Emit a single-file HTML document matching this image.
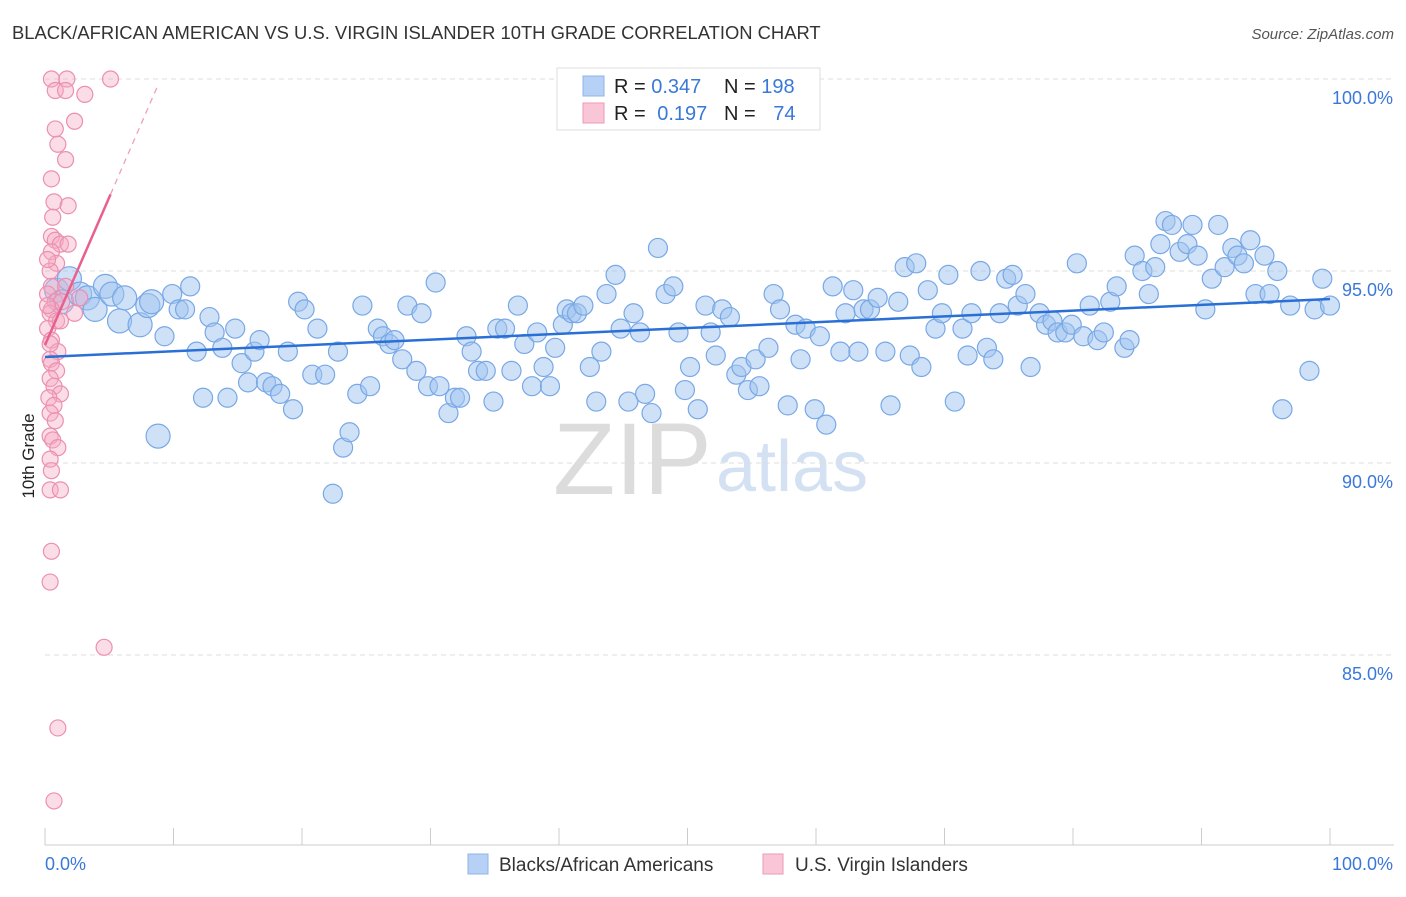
<!DOCTYPE html>
<html><head><meta charset="utf-8">
<style>
body{margin:0;background:#fff;font-family:"Liberation Sans",sans-serif;}
svg text{font-family:"Liberation Sans",sans-serif;}
</style></head>
<body>
<svg id="chart" width="1406" height="892" viewBox="0 0 1406 892">
<text x="12" y="39" font-size="18.4" fill="#333">BLACK/AFRICAN AMERICAN VS U.S. VIRGIN ISLANDER 10TH GRADE CORRELATION CHART</text>
<text x="1394" y="39" font-size="15" fill="#555" text-anchor="end" font-style="italic">Source: ZipAtlas.com</text>
<text x="34" y="456" font-size="17" fill="#222" text-anchor="middle" transform="rotate(-90 34 456)">10th Grade</text>
<g>
<text x="553" y="494" font-size="102" fill="#dcdcdc" font-family="Liberation Serif, serif">ZIP</text>
<text x="716" y="491" font-size="72" fill="#d3e1f3">atlas</text>
</g>
<g id="grid"></g>
<g id="axes"></g>
<g id="pts"></g>
<g id="lines"></g>
<g>
<rect x="557" y="68" width="263" height="62" fill="#fff" stroke="#ddd"/>
<rect x="583" y="76" width="21" height="20" fill="#b7d0f5" stroke="#8db4ea"/>
<text x="614" y="93" font-size="20" fill="#222">R = <tspan fill="#3a78d8">0.347</tspan></text>
<text x="724" y="93" font-size="20" fill="#222">N = <tspan fill="#3a78d8">198</tspan></text>
<rect x="583" y="103" width="21" height="20" fill="#f8c6d6" stroke="#ee9ab6"/>
<text x="614" y="120" font-size="20" fill="#222">R = <tspan dx="6" fill="#3a78d8">0.197</tspan></text>
<text x="724" y="120" font-size="20" fill="#222">N = <tspan dx="12" fill="#3a78d8">74</tspan></text>
</g>
<g>
<rect x="468" y="854" width="20" height="20" fill="#b7d0f5" stroke="#8db4ea"/>
<text x="499" y="871" font-size="19" fill="#333">Blacks/African Americans</text>
<rect x="763" y="854" width="20" height="20" fill="#f8c6d6" stroke="#ee9ab6"/>
<text x="795" y="871" font-size="19" fill="#333">U.S. Virgin Islanders</text>
</g>
</svg>
<script>
const blueX=[0.9,1.3,1.9,2.7,3.3,3.9,4.7,5.2,5.8,6.2,7.4,8.0,8.3,8.8,9.3,9.9,10.4,10.9,11.3,11.8,12.3,12.8,13.2,13.8,14.2,14.8,15.3,15.8,16.3,16.7,17.2,17.7,18.3,18.9,19.3,19.7,20.2,20.8,21.2,21.8,22.4,22.8,23.2,23.7,24.3,24.7,25.3,25.9,26.3,26.8,27.2,27.8,28.2,28.9,29.3,29.8,30.4,30.7,31.4,31.9,32.3,32.8,33.2,33.7,34.3,34.9,35.2,35.8,36.3,36.8,37.3,37.9,38.3,38.8,39.3,39.7,40.3,40.6,41.0,41.4,41.9,42.4,42.9,43.3,43.7,44.4,44.8,45.4,45.8,46.3,46.7,47.2,47.7,48.3,48.9,49.3,49.8,50.2,50.8,51.4,51.8,52.2,52.7,53.3,53.8,54.2,54.7,55.3,55.6,56.3,56.7,57.2,57.8,58.4,58.8,59.2,59.9,60.3,60.8,61.3,61.9,62.3,62.9,63.3,63.7,64.2,64.8,65.4,65.8,66.4,66.9,67.3,67.8,68.2,68.7,69.3,69.8,70.3,70.8,71.4,71.8,72.1,72.8,73.3,73.8,74.3,74.8,75.3,75.7,76.3,76.7,77.4,77.9,78.4,78.8,79.4,79.9,80.3,80.8,81.3,81.9,82.4,82.9,83.4,84.0,84.4,84.8,85.4,85.9,86.4,86.8,87.2,87.7,88.3,88.9,89.3,89.7,90.3,90.8,91.3,91.8,92.4,92.8,93.3,93.8,94.2,94.9,95.3,95.9,96.3,96.9,98.4,98.8,99.4,100.0];
const blueY=[94.5,94.2,94.8,94.4,94.3,94.0,94.6,94.4,93.7,94.3,93.6,94.1,94.2,90.7,93.3,94.4,94.0,94.0,94.6,92.9,91.7,93.8,93.4,93.0,91.7,93.5,92.6,92.1,92.9,93.2,92.1,92.0,91.8,92.9,91.4,94.2,94.0,92.3,93.5,92.3,89.2,92.9,90.4,90.8,91.8,94.1,92.0,93.5,93.3,93.1,93.2,92.7,94.1,92.4,93.9,92.0,94.7,92.0,91.3,91.7,91.7,93.3,92.9,92.4,92.4,91.6,93.5,93.5,92.4,94.1,93.1,92.0,93.4,92.5,92.0,93.0,93.6,94.0,93.9,93.9,94.1,92.5,91.6,92.9,94.4,94.9,93.5,91.6,93.9,93.4,91.8,91.3,95.6,94.4,94.6,93.4,91.9,92.5,91.4,94.1,93.4,92.8,94.0,93.8,92.3,92.5,91.9,92.7,92.0,93.0,94.4,94.0,91.5,93.6,92.7,93.5,91.4,93.3,91.0,94.6,92.9,93.9,94.5,92.9,94.0,94.0,94.3,92.9,91.5,94.2,95.1,92.8,95.2,92.5,94.5,93.5,93.9,94.9,91.6,93.5,92.8,93.9,95.0,93.0,92.7,93.9,94.8,94.9,94.1,94.4,92.5,93.9,93.6,93.7,93.4,93.4,93.6,95.2,93.3,94.1,93.2,93.4,94.2,94.6,93.0,93.2,95.4,95.0,94.4,95.1,95.7,96.3,96.2,95.5,95.7,96.2,95.4,94.0,94.8,96.2,95.1,95.6,95.4,95.2,95.8,94.4,95.4,94.4,95.0,91.4,94.1,92.4,94.0,94.8,94.1];
const pinkX=[0.5,1.7,5.1,0.8,1.6,3.1,2.3,0.8,1.0,1.6,0.5,0.7,1.8,0.6,0.5,0.8,1.2,1.8,0.5,0.9,0.4,0.5,0.2,0.8,1.3,0.5,0.4,0.9,0.2,0.5,1.0,0.4,0.5,0.9,0.4,0.7,1.2,0.3,0.7,0.4,0.8,0.4,0.6,1.0,0.4,0.5,0.4,1.2,0.5,0.4,4.6,1.0,0.7,0.2,1.2,1.6,2.3,2.7,0.4,0.2];
const pinkY=[100.0,100.0,100.0,99.7,99.7,99.6,98.9,98.7,98.3,97.9,97.4,96.8,96.7,96.4,95.9,95.8,95.7,95.7,95.5,95.2,95.0,94.6,94.4,94.2,94.2,94.0,93.9,93.7,93.5,93.2,92.9,92.7,92.6,92.4,92.2,92.0,91.8,91.7,91.5,91.3,91.1,90.7,90.6,90.4,90.1,89.8,89.3,89.3,87.7,86.9,85.2,83.1,81.2,95.3,93.7,94.6,93.9,94.3,93.1,94.1];
const blueTrend=[92.76,94.27];
const pinkTrend=[93.07,0.77];
const yTicks=[100,95,90,85];
const yTickLabels=["100.0%","95.0%","90.0%","85.0%"];
const xTicks=[0,10,20,30,40,50,60,70,80,90,100];

const X0=45,X1=1330,Y100=79,PX_PER=38.4;
const sx=v=>X0+(X1-X0)*v/100;
const sy=v=>Y100+(100-v)*PX_PER;
const NS="http://www.w3.org/2000/svg";
function mk(tag,attrs,parent){const e=document.createElementNS(NS,tag);for(const k in attrs)e.setAttribute(k,attrs[k]);parent.appendChild(e);return e;}
const grid=document.getElementById('grid'),axes=document.getElementById('axes'),pts=document.getElementById('pts'),lines=document.getElementById('lines');
yTicks.forEach((t,i)=>{
  const l=mk('line',{x1:X0,x2:1394,y1:sy(t),y2:sy(t),stroke:'#ddd','stroke-dasharray':'5,4'},grid);
  
  
  const tx=mk('text',{x:1393,y:sy(t)+25,'font-size':18,fill:'#3a78d8','text-anchor':'end'},axes);
  tx.textContent=yTickLabels[i];
  
  
});
const ax=mk('line',{x1:X0,x2:1394,y1:845,y2:845,stroke:'#ccc'},axes);


xTicks.forEach(t=>{
  const l=mk('line',{x1:sx(t),x2:sx(t),y1:828,y2:845,stroke:'#ccc'},axes);
  
  
});
const xl0=mk('text',{x:45,y:870,'font-size':18,fill:'#3a78d8'},axes);xl0.textContent='0.0%';


const xl1=mk('text',{x:1393,y:870,'font-size':18,fill:'#3a78d8','text-anchor':'end'},axes);xl1.textContent='100.0%';


blueX.forEach((x,i)=>{
  const r=x<9?12:9.5;
  const c=mk('circle',{cx:sx(x),cy:sy(blueY[i]),r:r,fill:'rgba(160,196,240,0.5)',stroke:'#78a8e6','stroke-width':1.2},pts);
  
  
});
pinkX.forEach((x,i)=>{
  const c=mk('circle',{cx:sx(x),cy:sy(pinkY[i]),r:8,fill:'rgba(245,170,195,0.4)',stroke:'#ec8fb0','stroke-width':1.2},pts);
  
  
});
const bl=mk('line',{x1:sx(0),y1:sy(blueTrend[0]),x2:sx(100),y2:sy(blueTrend[1]),stroke:'#2a6fd6','stroke-width':2.5},lines);


const pl=mk('line',{x1:sx(0),y1:sy(pinkTrend[0]),x2:sx(5.1),y2:sy(pinkTrend[0]+pinkTrend[1]*5.1),stroke:'#e8608e','stroke-width':2.5},lines);


const pd=mk('line',{x1:sx(5.1),y1:sy(pinkTrend[0]+pinkTrend[1]*5.1),x2:sx(8.8),y2:sy(pinkTrend[0]+pinkTrend[1]*8.8),stroke:'#eea0bb','stroke-width':1.3,'stroke-dasharray':'6,5'},lines);


</script>
</body></html>
